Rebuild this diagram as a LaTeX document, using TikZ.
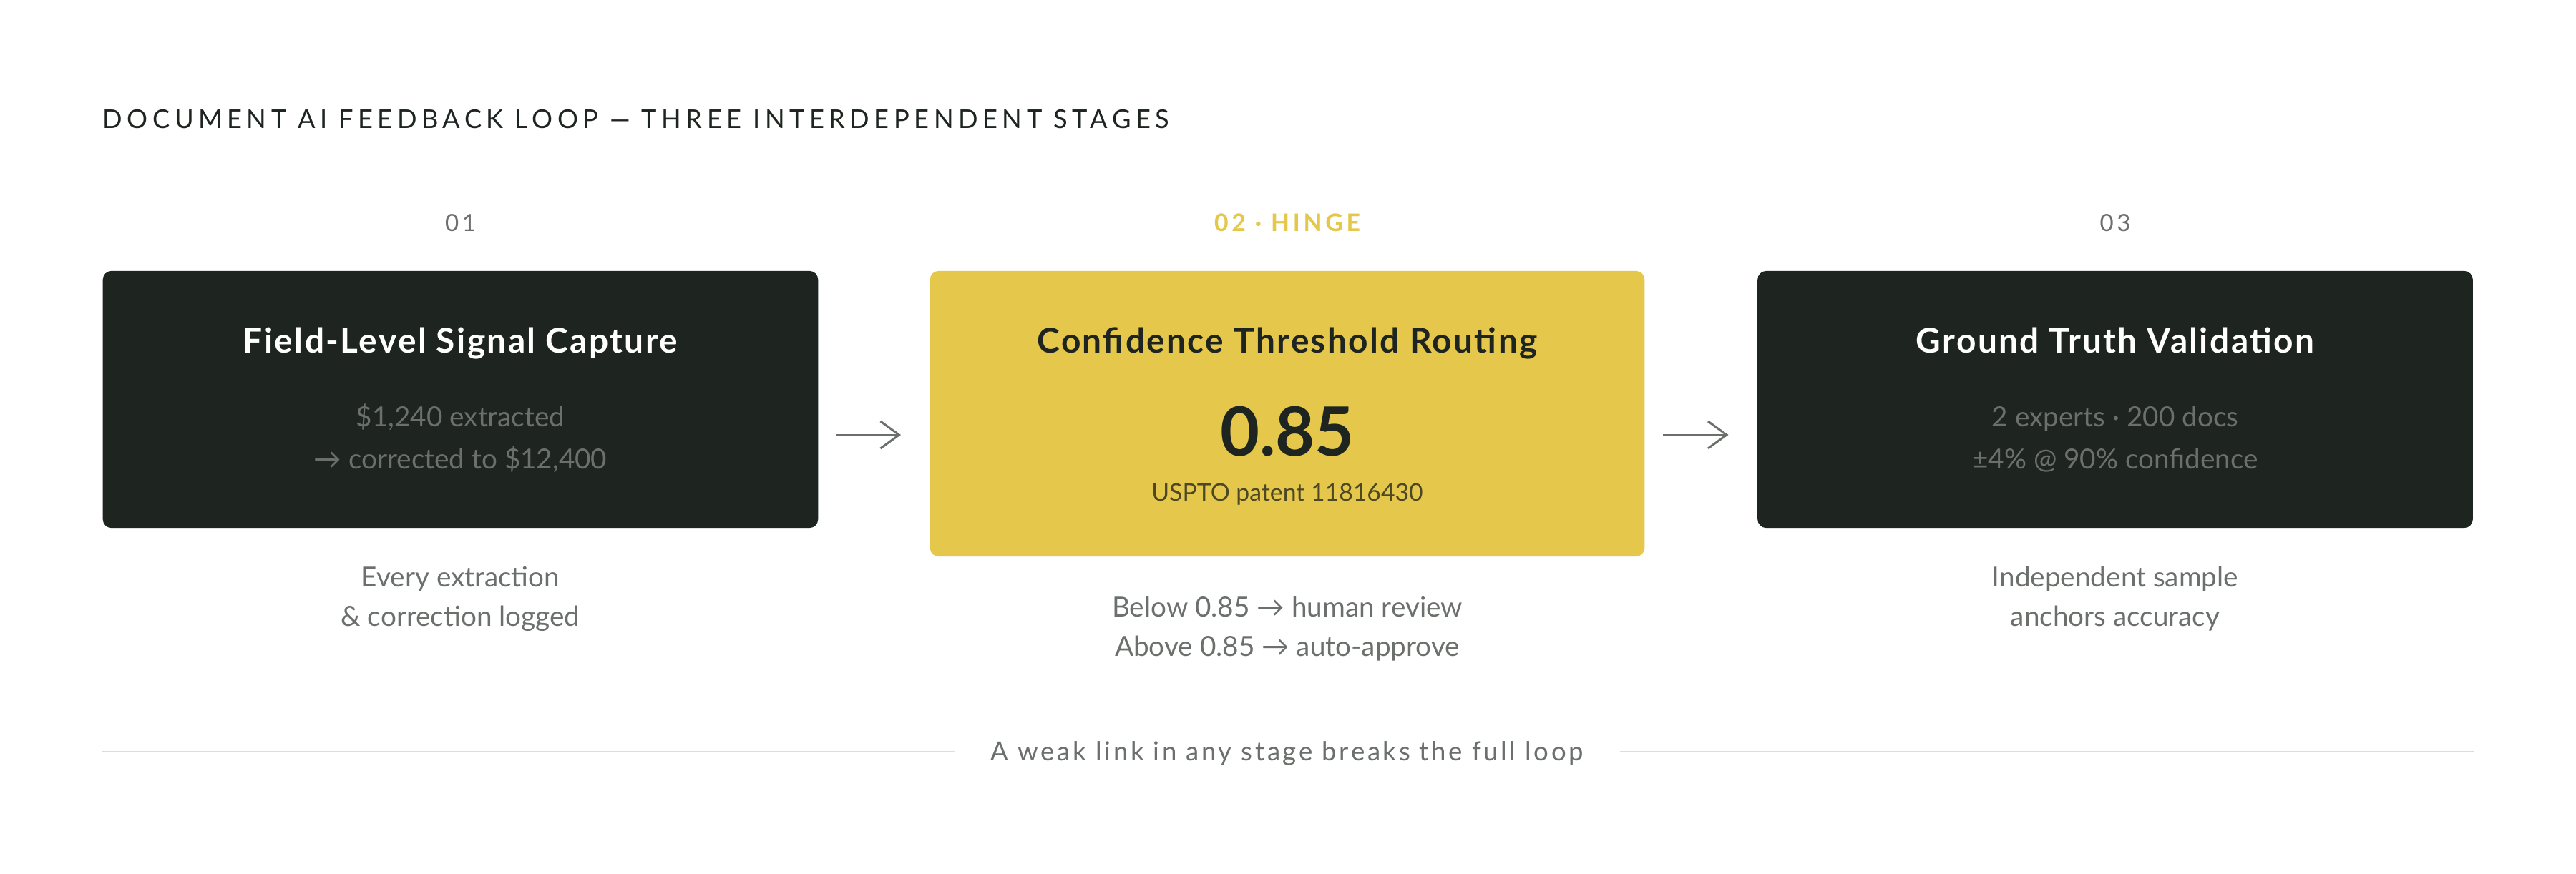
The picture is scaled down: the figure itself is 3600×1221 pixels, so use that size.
\documentclass[tikz,border=0pt]{standalone}
\usepackage{fontspec}
\setmainfont{Lato}
\newfontfamily\trackfont[LetterSpace=18]{Lato}
\newfontfamily\stepfont[LetterSpace=14]{Lato}
\newfontfamily\titlefont[LetterSpace=5]{Lato}
\newfontfamily\notefont[LetterSpace=10]{Lato}
\usetikzlibrary{arrows.meta,positioning,calc}

\definecolor{ink}{HTML}{1E2420}
\definecolor{hinge}{HTML}{E5C84B}
\definecolor{muted}{HTML}{6B706C}
\definecolor{rule}{HTML}{DDDDDD}
\definecolor{patent}{HTML}{4C4724}

\begin{document}
\begin{tikzpicture}[
    x=0.01cm, y=-0.01cm,
    darkstage/.style={rectangle, rounded corners=0.12cm, fill=ink, minimum width=9.99cm, minimum height=3.59cm},
    hingestage/.style={rectangle, rounded corners=0.12cm, fill=hinge, minimum width=9.98cm, minimum height=3.99cm},
    steplabel/.style={anchor=base, inner sep=0pt, font=\stepfont\fontsize{9.4}{11}\selectfont, text=muted},
    stagetitle/.style={anchor=base, inner sep=0pt, font=\titlefont\bfseries\fontsize{13.6}{15}\selectfont},
    detail/.style={anchor=base, inner sep=0pt, align=center, font=\fontsize{11}{16.5}\selectfont, text=muted},
    caption/.style={anchor=base, inner sep=0pt, align=center, font=\fontsize{11}{15.4}\selectfont, text=muted},
    arr/.style={-{Straight Barb[length=7.4pt, width=10.8pt, line width=0.85pt]}, line width=0.85pt, draw=muted}
]
    \useasboundingbox[fill=white] (0,0) rectangle (3600,1221);

    % heading
    \node[anchor=base west, inner sep=0pt, font=\trackfont\fontsize{10.3}{12}\selectfont, text=ink] (heading) at (143,179)
        {DOCUMENT AI FEEDBACK LOOP — THREE INTERDEPENDENT STAGES};

    % the three stages
    \node[darkstage] (b1) at (643.5,558.5) {};
    \node[hingestage] (b2) at (1799,578.5) {};
    \node[darkstage] (b3) at (2956,558.5) {};

    \node[steplabel] (n1) at (643.5,323) {01};
    \node[steplabel, text=hinge, font=\stepfont\bfseries\fontsize{9.6}{11}\selectfont] (n2) at (1799,323) {02 · HINGE};
    \node[steplabel] (n3) at (2956,323) {03};

    \node[stagetitle, text=white] (t1) at (643.5,493) {Field-Level Signal Capture};
    \node[stagetitle, text=ink] (t2) at (1799,493) {Confidence Threshold Routing};
    \node[stagetitle, text=white] (t3) at (2956,493) {Ground Truth Validation};

    % multi-line nodes sit on their last baseline
    \node[detail] (d1) at (643.5,655) {\$1,240 extracted\\→ corrected to \$12,400};
    \node[anchor=base, inner sep=0pt, font=\bfseries\fontsize{27}{30}\selectfont, text=ink] (thr) at (1799,637) {0.85};
    \node[detail, text=patent, font=\fontsize{9.6}{12}\selectfont] (d2) at (1799,700) {USPTO patent 11816430};
    \node[detail] (d3) at (2956,655) {2 experts · 200 docs\\±4\% @ 90\% confidence};

    % notes under the stages
    \node[caption] (c1) at (643.5,875) {Every extraction\\\& correction logged};
    \node[caption] (c2) at (1799,917) {Below 0.85 → human review\\Above 0.85 → auto-approve};
    \node[caption] (c3) at (2956,875) {Independent sample\\anchors accuracy};

    % arrows between stages
    \coordinate (row) at (0,608);
    \draw[arr] ($(b1.east |- row)+(24,0)$) -- ($(b2.west |- row)+(-40,0)$);
    \draw[arr] ($(b2.east |- row)+(25,0)$) -- ($(b3.west |- row)+(-40,0)$);

    % footer
    \node[anchor=base, inner ysep=0pt, inner xsep=14.2pt, font=\notefont\fontsize{10.4}{12}\selectfont, text=muted] (foot) at (1799,1063)
        {A weak link in any stage breaks the full loop};
    \coordinate (ruleL) at (143,1051);
    \coordinate (ruleR) at (3457,1051);
    \draw[rule, line width=0.6pt] (ruleL) -- (foot.west |- ruleL);
    \draw[rule, line width=0.6pt] (foot.east |- ruleR) -- (ruleR);
\end{tikzpicture}
\end{document}
